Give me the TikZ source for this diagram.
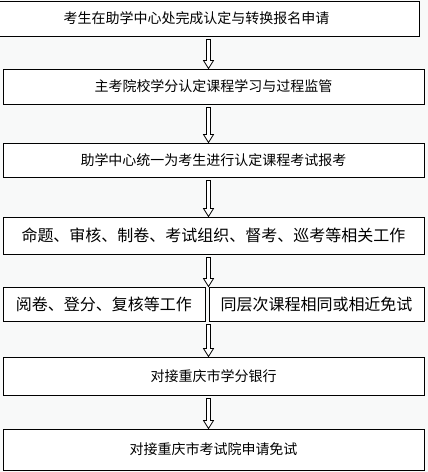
\documentclass[tikz,border=0pt]{standalone}
\usepackage{fontspec}
\newfontfamily\cjk{Noto Sans CJK SC}
\usetikzlibrary{calc}
\definecolor{pagebg}{RGB}{248,249,249}
\tikzset{
	box/.style={draw,line width=1pt,fill=white,inner sep=0pt,font=\cjk\fontsize{14}{16}\selectfont},
	bigbox/.style={box,font=\cjk\fontsize{16}{18}\selectfont},
	hollow/.style={draw,line width=0.8pt,fill=white,line join=miter}
}
\begin{document}
\begin{tikzpicture}[x=1pt,y=-1pt]
		\fill[pagebg] (0,0) rectangle (428,472);
		\useasboundingbox (0,0) rectangle (428,472);
		\coordinate (axis) at (208.5,0);
		%steps
		\node[box,minimum width=421pt,minimum height=35pt] (b1) at (208.5,18.5) {考生在助学中心处完成认定与转换报名申请\hspace*{24pt}};
		\node[box,minimum width=421pt,minimum height=35pt] (b2) at (213.5,86.5) {主考院校学分认定课程学习与过程监管};
		\node[box,minimum width=421pt,minimum height=34pt] (b3) at (213.5,160) {助学中心统一为考生进行认定课程考试报考};
		\node[bigbox,minimum width=421pt,minimum height=37pt] (b4) at (213.5,235.5) {命题、审核、制卷、考试组织、督考、巡考等相关工作};
		\node[bigbox,minimum width=202pt,minimum height=34pt] (b5a) at (104,304) {阅卷、登分、复核等工作};
		\node[bigbox,minimum width=215pt,minimum height=34pt] (b5b) at (316.5,304) {同层次课程相同或相近免试};
		\node[box,minimum width=421pt,minimum height=38pt] (b6) at (213.5,376) {对接重庆市学分银行};
		\node[box,minimum width=421pt,minimum height=41pt] (b7) at (213.5,449.5) {对接重庆市考试院申请免试};
		%hollow arrows
		\foreach \a/\b in {b1/b2,b2/b3,b3/b4,b4/b5a,b5a/b6,b6/b7}
		\draw[hollow] ($(\a.south -| axis)+(-2,3)$) -- ($(\b.north -| axis)+(-2,-8)$) -- ($(\b.north -| axis)+(-5,-8)$) -- (\b.north -| axis) -- ($(\b.north -| axis)+(5,-8)$) -- ($(\b.north -| axis)+(2,-8)$) -- ($(\a.south -| axis)+(2,3)$) -- cycle;
		\end{tikzpicture}
\end{document}
